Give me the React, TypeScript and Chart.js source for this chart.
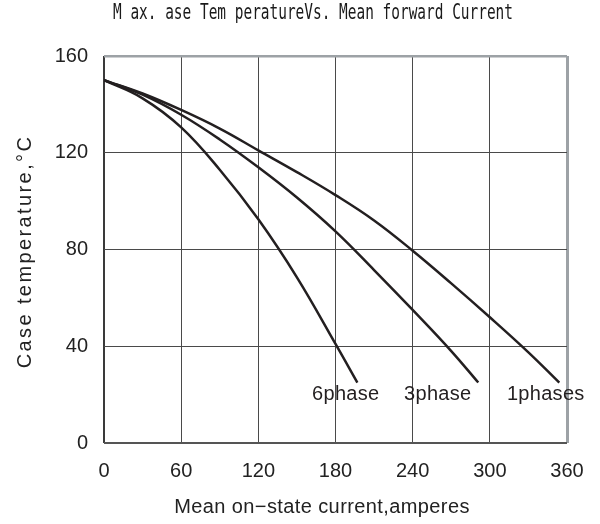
import React, { useEffect, useRef } from "react";
import { Chart, registerables } from "chart.js";

Chart.register(...registerables);

const titleText = "M ax. ase Tem peratureVs. Mean forward Current";
const xAxisTitle = "Mean on\u2212state current,amperes";
const yAxisTitle = "Case temperature,\u00b0C";

const xTicks = [0, 60, 120, 180, 240, 300, 360];
const yTicks = [0, 40, 80, 120, 160];

const phase1X = [0, 30, 60, 90, 120, 150, 180, 210, 240, 270, 300, 330, 354];
const phase1Y = [150, 144.5, 137.7, 130, 121, 112, 102.5, 92, 79.5, 66, 52, 37.5, 25];

const phase3X = [0, 30, 60, 90, 120, 150, 180, 210, 240, 270, 291];
const phase3Y = [150, 144, 135.7, 125.5, 114, 101.5, 87.5, 71.5, 55, 38, 25];

const phase6X = [0, 30, 60, 90, 120, 150, 180, 197];
const phase6Y = [150, 142.5, 130.5, 113, 92.5, 68.5, 41, 25];

const labelTexts = ["6phase", "3phase", "1phases"];
const labelX = [188, 259.5, 343.5];
const labelY = [20, 20, 20];

const ink = "#231f20";
const textInk = "#222";
const gridDark = "#4a4a4a";
const edgeLight = "#9da2a6";
const sansFamily = '"Liberation Sans", Arial, sans-serif';

function pts(xs: number[], ys: number[]) {
  return xs.map((x, i) => ({ x, y: ys[i] }));
}

const textPlugin = {
  id: "customTexts",
  afterDraw(chart: any) {
    const ctx = chart.ctx;
    const area = chart.chartArea;
    // chart title (condensed, monospace look)
    ctx.save();
    ctx.font = '21px "DejaVu Sans Mono"';
    ctx.fillStyle = "#1a1a1a";
    ctx.textBaseline = "middle";
    ctx.textAlign = "center";
    const w = ctx.measureText(titleText).width;
    ctx.translate(313, 14);
    ctx.scale(400 / w, 1);
    ctx.fillText(titleText, 0, 0);
    ctx.restore();

    // x axis title
    ctx.save();
    ctx.font = "20px " + sansFamily;
    ctx.fillStyle = textInk;
    ctx.textBaseline = "middle";
    ctx.textAlign = "center";
    (ctx as any).letterSpacing = "0.4px";
    ctx.fillText(xAxisTitle, area.left + 218, 507);
    ctx.restore();

    // y axis title
    ctx.save();
    ctx.font = "20px " + sansFamily;
    ctx.fillStyle = textInk;
    ctx.textBaseline = "middle";
    ctx.textAlign = "center";
    (ctx as any).letterSpacing = "2.4px";
    ctx.translate(25, (area.top + area.bottom) / 2 + 2);
    ctx.rotate(-Math.PI / 2);
    ctx.fillText(yAxisTitle, 0, 0);
    ctx.restore();
  },
  afterDatasetsDraw(chart: any) {
    const ctx = chart.ctx;
    const xs = chart.scales.x;
    const ys = chart.scales.y;
    ctx.save();
    ctx.font = "20px " + sansFamily;
    ctx.fillStyle = ink;
    ctx.textAlign = "center";
    ctx.textBaseline = "middle";
    (ctx as any).letterSpacing = "0.3px";
    labelTexts.forEach((t, i) => {
      ctx.fillText(t, xs.getPixelForValue(labelX[i]), ys.getPixelForValue(labelY[i]));
    });
    ctx.restore();
  },
};

export default function App() {
  const ref = useRef<HTMLCanvasElement | null>(null);
  useEffect(() => {
    if (!ref.current) return;
    const lineDs = (label: string, xs: number[], ys: number[]) => ({
      label,
      data: pts(xs, ys),
      borderColor: ink,
      borderWidth: 2.5,
      pointRadius: 0,
      fill: false,
      tension: 0.4,
    });
    const chart = new Chart(ref.current, {
      type: "line",
      data: {
        datasets: [
          lineDs("1phases", phase1X, phase1Y),
          lineDs("3phase", phase3X, phase3Y),
          lineDs("6phase", phase6X, phase6Y),
        ],
      },
      options: {
        animation: false,
        responsive: false,
        devicePixelRatio: 1,
        layout: { padding: { top: 56, right: 33, left: 0, bottom: 0 } },
        plugins: {
          legend: { display: false },
          title: { display: false },
          tooltip: { enabled: false },
        },
        scales: {
          x: {
            type: "linear",
            min: 0,
            max: 360,
            afterBuildTicks: (s: any) => {
              s.ticks = xTicks.map((v) => ({ value: v }));
            },
            afterFit: (s: any) => {
              s.height = 81;
            },
            border: { display: false },
            grid: {
              drawTicks: false,
              color: (c: any) =>
                c.tick && c.tick.value === 360 ? edgeLight : c.tick && c.tick.value === 0 ? "#3a3a3a" : gridDark,
              lineWidth: (c: any) =>
                c.tick && c.tick.value === 360 ? 3 : c.tick && c.tick.value === 0 ? 2 : 1,
            },
            ticks: {
              padding: 16,
              color: textInk,
              font: { family: sansFamily, size: 20 },
              maxRotation: 0,
            },
            title: { display: false },
          },
          y: {
            type: "linear",
            min: 0,
            max: 160,
            afterBuildTicks: (s: any) => {
              s.ticks = yTicks.map((v) => ({ value: v }));
            },
            afterFit: (s: any) => {
              s.width = 104;
            },
            border: { display: false },
            grid: {
              drawTicks: false,
              color: (c: any) =>
                c.tick && c.tick.value === 160 ? edgeLight : c.tick && c.tick.value === 0 ? "#555" : gridDark,
              lineWidth: (c: any) =>
                c.tick && c.tick.value === 160 ? 2.5 : c.tick && c.tick.value === 0 ? 2 : 1,
            },
            ticks: {
              padding: 16,
              color: textInk,
              font: { family: sansFamily, size: 20 },
            },
            title: { display: false },
          },
        },
      },
      plugins: [textPlugin],
    });
    return () => chart.destroy();
  }, []);
  return (
    <div style={{ position: "absolute", left: 0, top: 0, width: 600, height: 524, background: "#fff" }}>
      <canvas ref={ref} width={600} height={524} style={{ width: 600, height: 524, display: "block" }} />
    </div>
  );
}
